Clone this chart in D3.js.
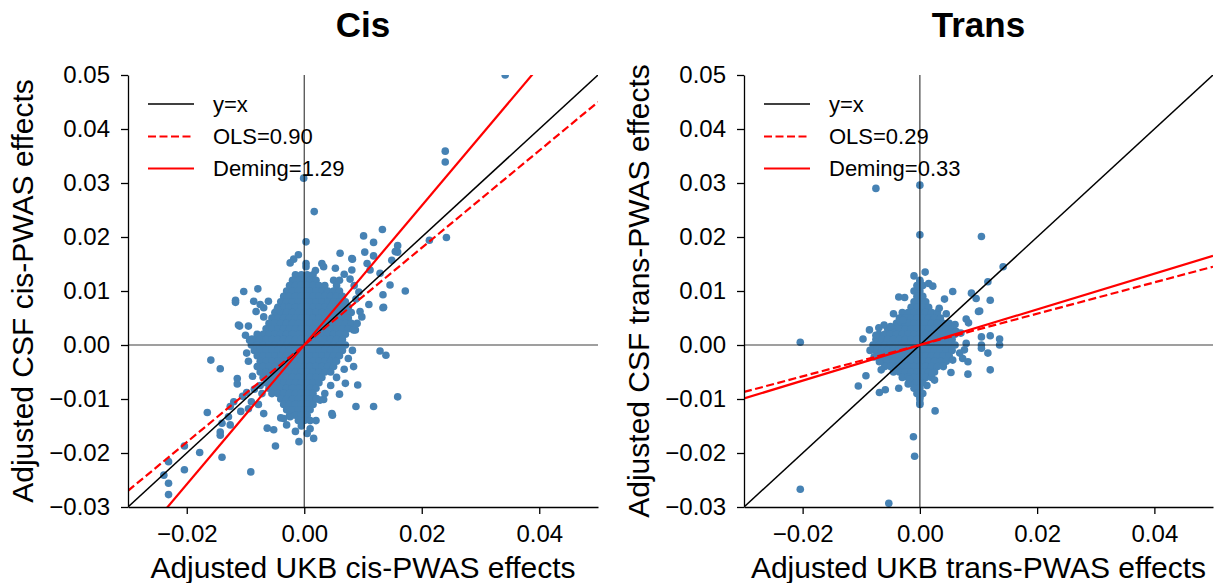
<!DOCTYPE html>
<html><head><meta charset="utf-8">
<script src="https://cdn.jsdelivr.net/npm/d3@7"></script>
<style>body{margin:0;background:#fff} text{font-family:"Liberation Sans",Arial,sans-serif;fill:#000}</style>
</head><body><svg id="c" width="1214" height="583"></svg>
<script>
// ---------- data ----------
const xTicks = [-0.02, 0, 0.02, 0.04];
const yTicks = [-0.03, -0.02, -0.01, 0, 0.01, 0.02, 0.03, 0.04, 0.05];
const axisDomain = [-0.03, 0.05];
const panelTitles = ["Cis", "Trans"];
const xAxisLabels = ["Adjusted UKB cis-PWAS effects", "Adjusted UKB trans-PWAS effects"];
const yAxisLabels = ["Adjusted CSF cis-PWAS effects", "Adjusted CSF trans-PWAS effects"];
const legendLabels = [["y=x", "OLS=0.90", "Deming=1.29"], ["y=x", "OLS=0.29", "Deming=0.33"]];
const olsSlopes = [0.90, 0.29];
const demingSlopes = [1.29, 0.33];

// dense core: [y (thousandths), [x values (thousandths)]]
const cisCoreRows = [
 [13, [-1.5,-0.5,0.5,1.5]],
 [12, [-2,-1,0,1,2,5,6]],
 [11, [-2.5,-1.5,-0.5,0.5,1.5,2.5,3.5,5.5]],
 [10, [-3,-2,-1,0,1,2,3,4,5,6]],
 [9, [-3.5,-2.5,-1.5,-0.5,0.5,1.5,2.5,3.5,4.5,5.5,6.5]],
 [8, [-4,-3,-2,-1,0,1,2,3,4,5,6,7]],
 [7, [-4.5,-3.5,-2.5,-1.5,-0.5,0.5,1.5,2.5,3.5,4.5,5.5,6.5,7.5]],
 [6, [-5,-4,-3,-2,-1,0,1,2,3,4,5,6,7,8]],
 [5, [-5.5,-4.5,-3.5,-2.5,-1.5,-0.5,0.5,1.5,2.5,3.5,4.5,5.5,6.5,7.5]],
 [4, [-6,-5,-4,-3,-2,-1,0,1,2,3,4,5,6,7,8]],
 [3, [-6.5,-5.5,-4.5,-3.5,-2.5,-1.5,-0.5,0.5,1.5,2.5,3.5,4.5,5.5,6.5,7.5]],
 [2, [-8,-7,-6,-5,-4,-3,-2,-1,0,1,2,3,4,5,6,7]],
 [1, [-8.5,-7.5,-6.5,-5.5,-4.5,-3.5,-2.5,-1.5,-0.5,0.5,1.5,2.5,3.5,4.5,5.5,6.5]],
 [0, [-9,-8,-7,-6,-5,-4,-3,-2,-1,0,1,2,3,4,5,6,7]],
 [-1, [-8.5,-7.5,-6.5,-5.5,-4.5,-3.5,-2.5,-1.5,-0.5,0.5,1.5,2.5,3.5,4.5,5.5,6.5]],
 [-2, [-8,-7,-6,-5,-4,-3,-2,-1,0,1,2,3,4,5,6]],
 [-3, [-7.5,-6.5,-5.5,-4.5,-3.5,-2.5,-1.5,-0.5,0.5,1.5,2.5,3.5,4.5,5.5]],
 [-4, [-8,-7,-6,-5,-4,-3,-2,-1,0,1,2,3,4,5]],
 [-5, [-7.5,-6.5,-5.5,-4.5,-3.5,-2.5,-1.5,-0.5,0.5,1.5,2.5,3.5,4.5]],
 [-6, [-7,-6,-5,-4,-3,-2,-1,0,1,2,3]],
 [-7, [-6.5,-5.5,-4.5,-3.5,-2.5,-1.5,-0.5,0.5,1.5,2.5]],
 [-8, [-6,-5,-4,-3,-2,-1,0,1,2]],
 [-9, [-5.5,-4.5,-3.5,-2.5,-1.5,-0.5,0.5,1.5]],
 [-10, [-4,-3,-2,-1,0,1,2]],
 [-11, [-3.5,-2.5,-1.5,-0.5,0.5,1.5]],
 [-12, [-3,-2,-1,0,1]],
 [-13, [-2.5,-1.5,-0.5,0.5]],
 [-14, [-1,0,1]],
 [-15, [-0.5]]
];
const cisOutliers = [
 [0.0342,0.05],[0.024,0.0359],[0.024,0.0339],[-0.0001,0.0309],[0.0017,0.0247],[0.0003,0.0191],
 [0.0101,0.0202],[0.0133,0.0214],[0.0118,0.019],[0.0159,0.0184],[0.0159,0.0172],[0.0103,0.0172],
 [0.0061,0.017],[0.0213,0.0194],[0.0242,0.0199],[0.0081,0.016],[0.0155,0.0173],[0.0082,0.0159],
 [0.0118,0.0165],[-0.001,0.0167],[-0.0018,0.0159],[-0.0024,0.0152],[0.0003,0.0151],[0.0003,0.0145],
 [0.0019,0.0138],[0.003,0.0151],[0.0033,0.0145],[0.0053,0.0142],[0.0068,0.0131],[0.0081,0.0139],
 [0.0107,0.0151],[0.0112,0.0139],[0.0129,0.0133],[0.0149,0.0157],[0.0146,0.0111],[0.0172,0.01],
 [0.0134,0.0093],[0.011,0.0075],[0.0134,0.0069],[0.0098,0.0052],[0.0084,0.0028],[0.0135,0.007],
 [0.0087,0.0028],[-0.0103,0.0099],[-0.0079,0.0104],[-0.0117,0.0083],[-0.0117,0.0079],[-0.0086,0.0081],
 [-0.0061,0.0081],[-0.0069,0.0069],[-0.0046,0.0066],[-0.0069,0.0052],[-0.011,0.0035],[-0.0112,0.0037],
 [-0.0089,0.0011],[-0.0093,0.0009],[-0.0159,-0.0028],[-0.0143,-0.0044],[-0.0114,-0.0062],[-0.0114,-0.0072],
 [-0.0126,-0.0114],[-0.0129,-0.0133],[-0.014,-0.0145],[-0.0165,-0.0125],[-0.0126,-0.0148],[-0.0143,-0.0161],
 [-0.0143,-0.0167],[-0.0049,-0.0187],[-0.014,-0.0208],[-0.0178,-0.0199],[-0.0204,-0.0187],[-0.0204,-0.0231],
 [-0.0231,-0.0216],[-0.0231,-0.0256],[-0.0231,-0.0277],[-0.0239,-0.0241],[-0.0091,-0.0235],[-0.0063,-0.0154],
 [-0.0052,-0.0157],[-0.0009,-0.0179],[0.0016,-0.0173],[-0.0069,-0.0127],[-0.0035,-0.0136],[-0.0024,-0.0133],
 [0.0005,-0.0164],[0.0033,-0.0101],[0.0047,-0.0127],[0.006,-0.0091],[0.007,-0.0071],[0.0091,-0.0074],
 [0.0084,-0.004],[0.0118,-0.0114],[0.0159,-0.0096],[0.0129,-0.0011],[0.0139,-0.0019],[0.0088,-0.0114],
 [0.0048,-0.013],[0.0027,-0.0102],[0.0021,-0.0099],
 [-0.0105,-0.0095],[-0.0098,-0.0088],[-0.009,-0.0105],[-0.0085,-0.0082],[-0.0078,-0.011],[-0.0072,-0.009],
 [-0.0108,-0.0123],[-0.012,-0.0105],[-0.0095,-0.0118],
 [-0.0095,0.0035],[-0.0082,0.0062],[-0.0075,0.0075],[-0.01,0.0018],[-0.0098,-0.0015],[-0.0095,-0.003],
 [-0.0088,-0.0058],[-0.0075,-0.0075],[0.0088,0.0085],[0.0093,0.0098],[0.0085,0.011],[0.0078,0.0122],
 [0.0095,0.0062],[0.009,0.004],[0.0082,-0.001],[0.0075,-0.0025],[0.0068,-0.0045],[0.0055,-0.006],
 [0.0045,-0.0075],[0.0035,-0.009],[-0.003,-0.0148],[0.002,-0.014],[-0.004,-0.0135],[0.001,-0.0155],
 [-0.0015,-0.016]
];

const transCoreRows = [
 [12, [0]],
 [11, [-0.5,0.5]],
 [10, [-1,0]],
 [9, [-0.5,0.5]],
 [8, [-1,0,1]],
 [7, [-1.5,-0.5,0.5,1.5]],
 [6, [-3,-2,-1,0,1,2,3]],
 [5, [-3.5,-2.5,-1.5,-0.5,0.5,1.5,2.5,3.5]],
 [4, [-4,-3,-2,-1,0,1,2,3,4,5]],
 [3, [-5.5,-4.5,-3.5,-2.5,-1.5,-0.5,0.5,1.5,2.5,3.5,4.5,5.5]],
 [2, [-7,-6,-5,-4,-3,-2,-1,0,1,2,3,4,5,6]],
 [1, [-7.5,-6.5,-5.5,-4.5,-3.5,-2.5,-1.5,-0.5,0.5,1.5,2.5,3.5,4.5,5.5]],
 [0, [-8,-7,-6,-5,-4,-3,-2,-1,0,1,2,3,4,5,6]],
 [-1, [-7.5,-6.5,-5.5,-4.5,-3.5,-2.5,-1.5,-0.5,0.5,1.5,2.5,3.5,4.5,5.5]],
 [-2, [-7,-6,-5,-4,-3,-2,-1,0,1,2,3,4,5]],
 [-3, [-6.5,-5.5,-4.5,-3.5,-2.5,-1.5,-0.5,0.5,1.5,2.5,3.5,4.5]],
 [-4, [-6,-5,-4,-3,-2,-1,0,1,2,3,4]],
 [-5, [-4.5,-3.5,-2.5,-1.5,-0.5,0.5,1.5,2.5]],
 [-6, [-3,-2,-1,0,1,2]],
 [-7, [-1.5,-0.5,0.5]],
 [-8, [-1,0]],
 [-9, [-0.5,0.5]],
 [-10, [0]],
 [-11, [0]]
];
const transOutliers = [
 [0,0.0204],[0.0105,0.0201],[0.0142,0.0145],[0.0116,0.0117],[0.0088,0.0096],[0.0096,0.0086],
 [0.012,0.0083],[0.0102,0.0063],[0.0056,0.0099],[0.0042,0.0085],[0.0033,0.0068],[0.0015,0.0114],
 [0.0022,0.0109],[0,0.0117],[0,0.0108],[-0.0036,0.0089],[-0.0026,0.0088],[-0.0035,0.0045],
 [-0.0029,0.0046],[-0.0061,0.0037],[-0.005,0.0034],[-0.0086,0.0028],[-0.0097,0.0011],[-0.0204,0.0005],
 [0.0079,0.0048],[0.0083,0.0041],[0.0062,0.0025],[0.0105,0.0015],[0.0105,0],[0.0105,-0.0006],
 [0.012,0.0017],[0.0136,0.0011],[0.0136,0],[0.0116,-0.0015],[0.0076,-0.0009],[0.0073,-0.0025],
 [0.0056,-0.0028],[0.0053,-0.0051],[0.0082,-0.0054],[0.012,-0.0046],[0.0021,-0.0052],[0.0079,0.0003],
 [0.0082,-0.0031],[-0.0092,-0.0057],[-0.0105,-0.0076],[-0.0069,-0.0088],[-0.0059,-0.0083],[-0.0036,-0.008],
 [-0.0018,-0.0063],[-0.0066,-0.0046],[-0.0069,-0.0031],[0,-0.0096],[0,-0.0107],[0.0026,-0.0122],
 [-0.0204,-0.0267],[-0.0053,-0.0293],[-0.0011,-0.017],[-0.0009,-0.0206],[-0.0075,0.029],[0,0.0296],
 [0.01,0.0062],
 [-0.0075,0.0018],[-0.007,0.0032],[-0.0078,-0.0022],[-0.0085,-0.001],[0.007,0.0022],[0.0068,-0.0015],
 [0.006,0.0038],[0.0045,0.0058],[-0.0045,0.0058],[0.0012,-0.0075],[-0.002,-0.0072],[0.0025,-0.0065],
 [0.0009,0.0135],[-0.001,0.0128]
];

// ---------- build ----------
function expand(rows, outliers) {
  const pts = [];
  rows.forEach(([yv, xs]) => xs.forEach(xv => pts.push([xv / 1000, yv / 1000])));
  return pts.concat(outliers);
}
const panelPoints = [expand(cisCoreRows, cisOutliers), expand(transCoreRows, transOutliers)];

const svg = d3.select("#c");
const panelX = [[128, 598], [744, 1213]];
const plotTop = 75, plotBottom = 507;
const fmt = d3.format(".2f");

panelX.forEach((xr, i) => {
  const x = d3.scaleLinear().domain(axisDomain).range(xr);
  const y = d3.scaleLinear().domain(axisDomain).range([plotBottom, plotTop]);
  const g = svg.append("g");
  const cid = "clip" + i;
  svg.append("defs").append("clipPath").attr("id", cid)
    .append("rect").attr("x", xr[0]).attr("y", plotTop).attr("width", xr[1] - xr[0]).attr("height", plotBottom - plotTop);

  const plot = g.append("g").attr("clip-path", `url(#${cid})`);
  plot.selectAll("circle").data(panelPoints[i]).enter().append("circle")
    .attr("cx", d => x(d[0])).attr("cy", d => y(d[1])).attr("r", 3.8)
    .attr("fill", "#4682b4");

  // zero lines
  plot.append("line").attr("x1", xr[0]).attr("x2", xr[1]).attr("y1", y(0)).attr("y2", y(0))
    .attr("stroke", "#000").attr("stroke-opacity", 0.75).attr("stroke-width", 1.2);
  plot.append("line").attr("x1", x(0)).attr("x2", x(0)).attr("y1", plotTop).attr("y2", plotBottom)
    .attr("stroke", "#000").attr("stroke-opacity", 0.75).attr("stroke-width", 1.2);

  const line = d3.line().x(d => x(d[0])).y(d => y(d[1]));
  const ends = s => [[axisDomain[0], s * axisDomain[0]], [axisDomain[1], s * axisDomain[1]]];
  plot.append("path").attr("d", line(ends(1))).attr("stroke", "#000").attr("stroke-width", 1.5).attr("fill", "none");
  plot.append("path").attr("d", line(ends(olsSlopes[i]))).attr("stroke", "#ff0000").attr("stroke-width", 2.2)
    .attr("stroke-dasharray", "8,3.5").attr("fill", "none");
  plot.append("path").attr("d", line(ends(demingSlopes[i]))).attr("stroke", "#ff0000").attr("stroke-width", 2.2).attr("fill", "none");

  // axes
  const ax = g.append("g").attr("transform", `translate(0,${plotBottom})`)
    .call(d3.axisBottom(x).tickValues(xTicks).tickFormat(fmt).tickSize(7).tickPadding(11).tickSizeOuter(0));
  const ay = g.append("g").attr("transform", `translate(${xr[0]},0)`)
    .call(d3.axisLeft(y).tickValues(yTicks).tickFormat(fmt).tickSize(7).tickPadding(11).tickSizeOuter(0));
  [ax, ay].forEach(a => {
    a.selectAll("path.domain").attr("stroke", "#000").attr("stroke-width", 1.3);
    a.selectAll(".tick line").attr("stroke", "#000").attr("stroke-width", 1.3);
    a.selectAll("text").attr("font-size", 24).attr("font-family", "Liberation Sans, Arial, sans-serif").attr("fill", "#000");
  });

  // titles
  const cx = (xr[0] + xr[1]) / 2;
  g.append("text").attr("x", cx).attr("y", 37).attr("text-anchor", "middle")
    .attr("font-size", 35).attr("font-weight", "bold").text(panelTitles[i]);
  g.append("text").attr("x", cx).attr("y", 578).attr("text-anchor", "middle")
    .attr("font-size", 30).text(xAxisLabels[i]);
  const ylx = xr[0] - 95;
  g.append("text").attr("transform", `translate(${ylx},${(plotTop + plotBottom) / 2}) rotate(-90)`)
    .attr("text-anchor", "middle").attr("font-size", 30).text(yAxisLabels[i]);

  // legend
  const lx = xr[0] + 20;
  const ly = [104, 136.5, 168.5];
  const styles = [{c: "#000", w: 1.5, d: null}, {c: "#ff0000", w: 2.2, d: "8,3.5"}, {c: "#ff0000", w: 2.2, d: null}];
  styles.forEach((s, k) => {
    g.append("line").attr("x1", lx).attr("x2", lx + 46).attr("y1", ly[k]).attr("y2", ly[k])
      .attr("stroke", s.c).attr("stroke-width", s.w).attr("stroke-dasharray", s.d);
    g.append("text").attr("x", lx + 65).attr("y", ly[k]).attr("dy", "0.36em")
      .attr("font-size", 22).text(legendLabels[i][k]);
  });
});
</script></body></html>
